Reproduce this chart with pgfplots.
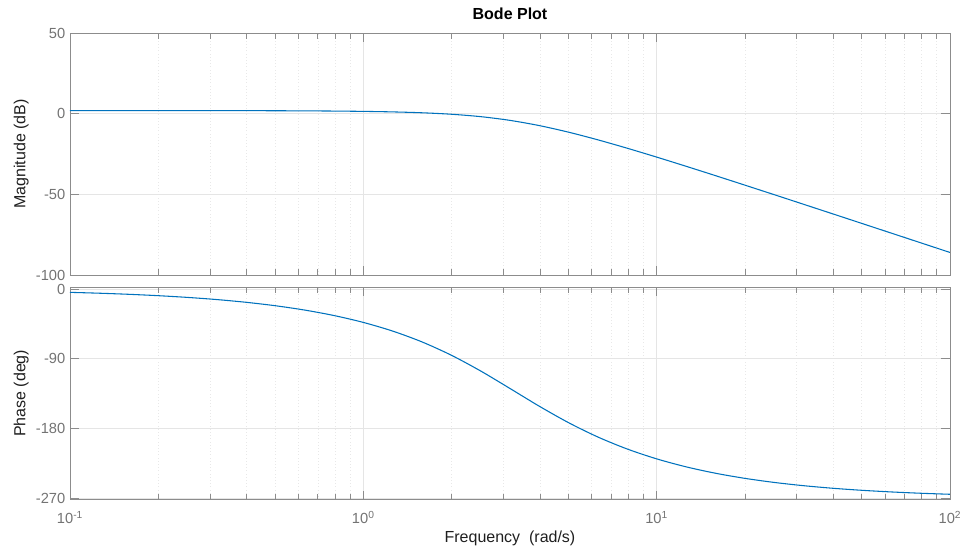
\documentclass[border=0pt]{standalone}
\usepackage{fontspec}
\setmainfont{Liberation Sans}
\usepackage{pgfplots}
\pgfplotsset{compat=1.18}
\definecolor{mblue}{rgb}{0,0.447,0.741}
\definecolor{axgray}{gray}{0.55}
\definecolor{tickgray}{gray}{0.45}
\definecolor{labgray}{gray}{0.12}

\pgfplotsset{
  every axis/.append style={
    scale only axis, width=660pt,
    xmin=0.1, xmax=100,
    xtick={0.1,1,10,100},
    minor xtick={0.2,0.3,0.4,0.5,0.6,0.7,0.8,0.9,2,3,4,5,6,7,8,9,20,30,40,50,60,70,80,90},
    xmajorgrids=true, xminorgrids=true, ymajorgrids=true,
    major grid style={gray!20, line width=0.5pt},
    minor grid style={gray!18, dotted, line width=0.5pt},
    axis line style={axgray, line width=0.6pt},
    every tick/.style={axgray, line width=0.6pt},
    major tick length=6.5pt, minor tick length=4.5pt,
    tick align=inside,
    xtick pos=both, ytick pos=both,
    ticklabel style={font=\fontsize{11}{13}\selectfont, text=tickgray},
    xticklabel style={yshift=-5pt},
    label style={font=\fontsize{12}{14}\selectfont, text=labgray},
  },
  every axis y label/.style={at={(axis description cs:0,0.5)}, xshift=-36.5pt, rotate=90, anchor=center},
  every axis x label/.style={at={(axis description cs:0.5,0)}, yshift=-28.7pt, anchor=center},
}

\begin{document}
\begin{tikzpicture}
\path[use as bounding box] (0,0) rectangle (723.75pt,-415.5pt);

\begin{semilogxaxis}[
  at={(52.5pt,-24.75pt)}, anchor=north west,
  height=181.5pt,
  /pgf/number format/assume math mode=true,
  ymin=-100, ymax=50, ytick={-100,-50,0,50},
  xticklabels={},
  ylabel={Magnitude (dB)},
  title={Bode Plot},
  title style={at={(0.5,1)}, anchor=center, yshift=8.5pt, font=\fontsize{12}{14}\selectfont\bfseries, text=black},
]
\addplot[mblue, line width=0.8pt, smooth, no marks] coordinates {
(0.1,1.933) (0.12589,1.930) (0.15849,1.926) (0.19953,1.918) (0.25119,1.907)
(0.31623,1.889) (0.39811,1.860) (0.50119,1.813) (0.63096,1.739) (0.79433,1.618)
(1,1.421) (1.2589,1.097) (1.5849,0.554) (1.9953,-0.355) (2.5119,-1.845)
(3.1623,-4.150) (3.9811,-7.391) (5.0119,-11.489) (6.3096,-16.239) (7.9433,-21.434)
(10,-26.919) (12.589,-32.590) (15.849,-38.381) (19.953,-44.249) (25.119,-50.165)
(31.623,-56.112) (39.811,-62.078) (50.119,-68.057) (63.096,-74.044) (79.433,-80.035)
(100,-86.030)
};
\end{semilogxaxis}

\begin{semilogxaxis}[
  at={(52.5pt,-215.25pt)}, anchor=north west,
  height=159.5pt,
  /pgf/number format/assume math mode=true,
  ymin=-271.8, ymax=2.6, ytick={-270,-180,-90,0},
  xticklabels={10\textsuperscript{-1},10\textsuperscript{0},10\textsuperscript{1},10\textsuperscript{2}},
  ylabel={Phase (deg)},
  xlabel={Frequency\ \ (rad/s)},
]
\addplot[mblue, line width=0.8pt, smooth, no marks] coordinates {
(0.1,-4.30) (0.12589,-5.41) (0.15849,-6.81) (0.19953,-8.58) (0.25119,-10.80)
(0.31623,-13.59) (0.39811,-17.12) (0.50119,-21.56) (0.63096,-27.15) (0.79433,-34.21)
(1,-43.09) (1.2589,-54.27) (1.5849,-68.24) (1.9953,-85.40) (2.5119,-105.75)
(3.1623,-128.33) (3.9811,-151.24) (5.0119,-172.51) (6.3096,-191.01) (7.9433,-206.47)
(10,-219.14) (12.589,-229.40) (15.849,-237.65) (19.953,-244.25) (25.119,-249.52)
(31.623,-253.72) (39.811,-257.06) (50.119,-259.72) (63.096,-261.83) (79.433,-263.51)
(100,-264.84)
};
\end{semilogxaxis}
\end{tikzpicture}
\end{document}
